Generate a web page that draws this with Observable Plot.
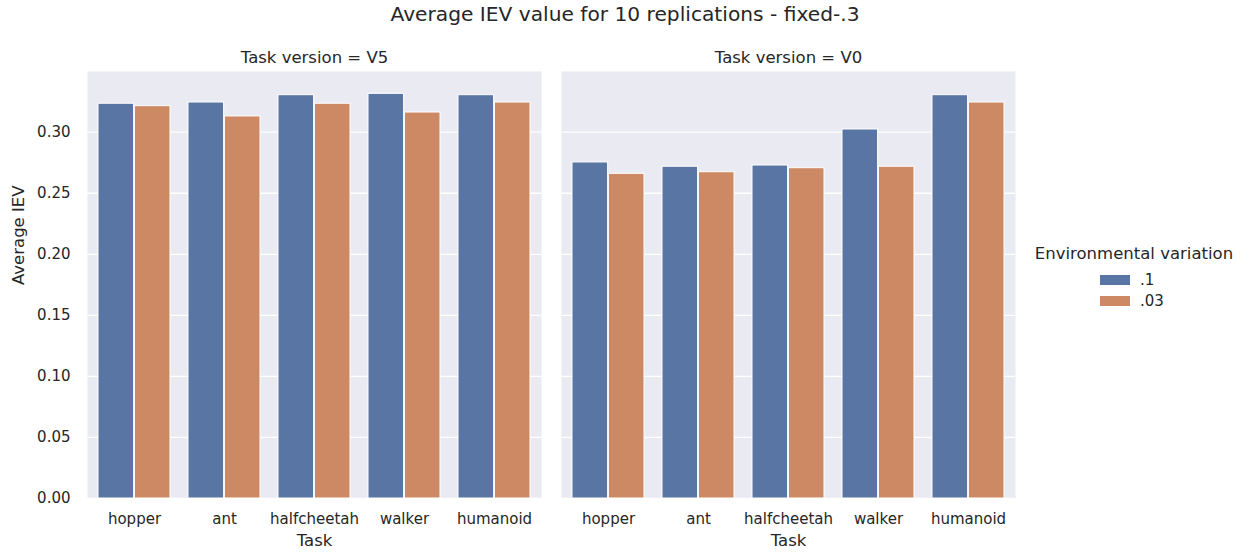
<!DOCTYPE html>
<html>
<head>
<meta charset="utf-8">
<script src="https://cdn.jsdelivr.net/npm/d3@7"></script>
<script src="https://cdn.jsdelivr.net/npm/@observablehq/plot@0.6"></script>
<style>
  body { margin: 0; background: #ffffff; font-family: "DejaVu Sans", sans-serif; color: #262626; }
  #wrap { position: relative; width: 1247px; height: 552px; overflow: hidden; }
  #chart { position: absolute; left: 0; top: 0; }
  #title { position: absolute; left: 0; top: 0; width: 1250px; text-align: center; font-size: 20.2px; line-height: 28px; }
  #legend { position: absolute; left: 0; top: 0; }
  .lg-title { position: absolute; left: 1024px; top: 244px; width: 220px; text-align: center; font-size: 16.5px; line-height: 20px; }
  .lg-sw { position: absolute; left: 1100px; width: 30px; height: 10px; }
  .lg-lab { position: absolute; left: 1140px; font-size: 15px; line-height: 18px; }
</style>
</head>
<body>
<div id="wrap">
  <div id="chart"></div>
  <div id="title">Average IEV value for 10 replications - fixed-.3</div>
  <div id="legend"></div>
</div>
<script>
// ---- data ----
const tasks = ["hopper", "ant", "halfcheetah", "walker", "humanoid"];
const versions = ["V5", "V0"];
const variations = [".1", ".03"];
const variationColors = ["#5975a4", "#cc8963"];
const iev_V5_01  = [0.3233, 0.3243, 0.3303, 0.3314, 0.3303];
const iev_V5_003 = [0.3213, 0.3129, 0.3233, 0.3161, 0.3243];
const iev_V0_01  = [0.2752, 0.2717, 0.2727, 0.3022, 0.3303];
const iev_V0_003 = [0.2659, 0.2672, 0.2705, 0.2717, 0.3243];
const yTicks = [0, 0.05, 0.10, 0.15, 0.20, 0.25, 0.30];
const legendTitle = "Environmental variation";
const versionLabel = "Task version = ";
const xLabel = "Task";
const yLabel = "Average IEV";

const series = {
  "V5": { ".1": iev_V5_01, ".03": iev_V5_003 },
  "V0": { ".1": iev_V0_01, ".03": iev_V0_003 }
};
const rows = [];
for (const version of versions)
  for (const variation of variations)
    tasks.forEach((task, i) => rows.push({ version, variation, task, value: series[version][variation][i] }));

const halfBar = 36.4;
const textColor = "#262626";

const chart = Plot.plot({
  width: 1247,
  height: 552,
  marginLeft: 86,
  marginRight: 231,
  marginTop: 71,
  marginBottom: 54,
  style: { fontFamily: "DejaVu Sans, sans-serif", color: textColor, background: "white", overflow: "visible" },
  fx: { domain: versions, paddingInner: 0.0421, paddingOuter: 0, axis: null, label: null },
  x: { domain: tasks, paddingInner: 0.2, paddingOuter: 0.1, label: null },
  y: { domain: [0, 0.3497], label: null },
  color: { domain: variations, range: variationColors },
  marks: [
    Plot.frame({ fill: "#eaeaf2", stroke: null }),
    Plot.gridY({ ticks: yTicks, stroke: "white", strokeOpacity: 1, strokeWidth: 1.3 }),
    Plot.barY(rows.filter(d => d.variation === variations[0]), {
      fx: "version", x: "task", y: "value", fill: "variation",
      insetLeft: 0, insetRight: halfBar, stroke: "white", strokeWidth: 1
    }),
    Plot.barY(rows.filter(d => d.variation === variations[1]), {
      fx: "version", x: "task", y: "value", fill: "variation",
      insetLeft: halfBar, insetRight: 0, stroke: "white", strokeWidth: 1
    }),
    Plot.axisY({ ticks: yTicks, tickSize: 0, tickPadding: 17, tickFormat: d3.format(".2f"), fontSize: 15, label: null }),
    Plot.axisX({ tickSize: 0, tickPadding: 15, fontSize: 15, label: null }),
    Plot.text(versions, { fx: d => d, text: d => versionLabel + d, frameAnchor: "top", dy: -20, fontSize: 16.5, fill: textColor }),
    Plot.text(versions, { fx: d => d, text: () => xLabel, frameAnchor: "bottom", dy: 47, fontSize: 16.5, fill: textColor }),
    Plot.text([versions[0]], { fx: d => d, text: () => yLabel, frameAnchor: "left", dx: -69, rotate: -90, fontSize: 16.5, fill: textColor })
  ]
});
document.getElementById("chart").appendChild(chart);

// ---- legend ----
const lg = document.getElementById("legend");
const t = document.createElement("div");
t.className = "lg-title";
t.textContent = legendTitle;
lg.appendChild(t);
const rowCenters = [279.5, 301];
variations.forEach((v, i) => {
  const sw = document.createElement("div");
  sw.className = "lg-sw";
  sw.style.top = (rowCenters[i] - 5) + "px";
  sw.style.background = variationColors[i];
  lg.appendChild(sw);
  const lab = document.createElement("div");
  lab.className = "lg-lab";
  lab.style.top = (rowCenters[i] - 9) + "px";
  lab.textContent = v;
  lg.appendChild(lab);
});
</script>
</body>
</html>
